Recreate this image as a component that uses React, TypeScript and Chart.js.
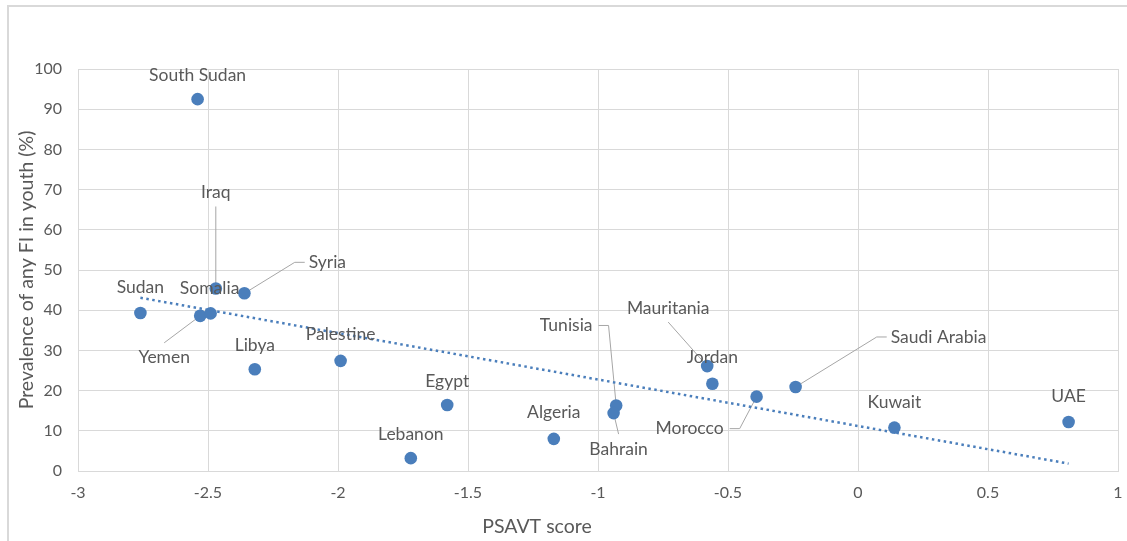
import React, { useEffect, useRef } from "react";
import { Chart, registerables } from "chart.js";

Chart.register(...registerables);

// ---- Data ----
const countries = [
  "South Sudan", "Sudan", "Yemen", "Somalia", "Iraq", "Syria", "Libya", "Palestine",
  "Egypt", "Lebanon", "Algeria", "Tunisia", "Bahrain", "Mauritania", "Jordan",
  "Morocco", "Saudi Arabia", "Kuwait", "UAE",
];
const psavtScore = [
  -2.54, -2.76, -2.53, -2.49, -2.47, -2.36, -2.32, -1.99,
  -1.58, -1.72, -1.17, -0.93, -0.94, -0.58, -0.56,
  -0.39, -0.24, 0.14, 0.81,
];
const fiPrevalence = [
  92.5, 39.3, 38.6, 39.2, 45.4, 44.2, 25.3, 27.4,
  16.4, 3.2, 8.0, 16.3, 14.4, 26.1, 21.7,
  18.5, 20.9, 10.8, 12.2,
];
const xAxisTitle = "PSAVT score";
const yAxisTitle = "Prevalence of any FI in youth (%)";

// ---- Label placement (pixel offsets of label centre from its point, leader style) ----
const labelPlacement: Record<string, [number, number, string]> = {
  "South Sudan": [0, -24, "none"],
  "Sudan": [0, -26, "none"],
  "Yemen": [-36, 42, "top"],
  "Somalia": [-1, -25, "none"],
  "Iraq": [0, -96, "bottom"],
  "Syria": [83, -31, "left"],
  "Libya": [0, -24, "none"],
  "Palestine": [0, -26, "none"],
  "Egypt": [0, -24, "none"],
  "Lebanon": [0, -24, "none"],
  "Algeria": [0, -26, "none"],
  "Tunisia": [-50, -80, "right"],
  "Bahrain": [5, 36, "top"],
  "Mauritania": [-39, -58, "bottom"],
  "Jordan": [0, -26, "none"],
  "Morocco": [-67, 32, "right"],
  "Saudi Arabia": [143, -50, "left"],
  "Kuwait": [0, -25, "none"],
  "UAE": [0, -26, "none"],
};

const FONT = "Lato, 'Open Sans', sans-serif";
const TEXT = "#595959";
const GRID = "#d9d9d9";
const BLUE = "#4A7EBB";
const LABEL_SIZE = 17.5;
const TITLE_SIZE = 19.5;

function regression(xs: number[], ys: number[]) {
  const n = xs.length;
  const mx = xs.reduce((a, b) => a + b, 0) / n;
  const my = ys.reduce((a, b) => a + b, 0) / n;
  let sxy = 0, sxx = 0;
  for (let i = 0; i < n; i++) {
    sxy += (xs[i] - mx) * (ys[i] - my);
    sxx += (xs[i] - mx) ** 2;
  }
  const slope = sxy / sxx;
  return { slope, intercept: my - slope * mx };
}

const labelPlugin = {
  id: "countryLabels",
  beforeDatasetsDraw(chart: any) {
    const meta = chart.getDatasetMeta(0);
    const ctx = chart.ctx;
    ctx.save();
    ctx.font = `${LABEL_SIZE}px ${FONT}`;
    ctx.strokeStyle = "#a6a6a6";
    ctx.lineWidth = 1;
    meta.data.forEach((pt: any, i: number) => {
      const name = countries[i];
      const [dx, dy, leader] = labelPlacement[name] || [0, -24, "none"];
      if (leader === "none") return;
      const cx = pt.x + dx;
      const cy = pt.y + dy;
      const w = ctx.measureText(name).width;
      ctx.beginPath();
      if (leader === "left") {
        const l = cx - w / 2;
        ctx.moveTo(l - 4, cy);
        ctx.lineTo(l - 14, cy);
        ctx.lineTo(pt.x, pt.y);
      } else if (leader === "right") {
        const r = cx + w / 2;
        ctx.moveTo(r + 6, cy);
        ctx.lineTo(r + 16, cy);
        ctx.lineTo(pt.x, pt.y);
      } else if (leader === "bottom") {
        ctx.moveTo(cx, cy + 14);
        ctx.lineTo(pt.x, pt.y);
      } else if (leader === "top") {
        ctx.moveTo(cx, cy - 15);
        ctx.lineTo(pt.x, pt.y);
      }
      ctx.stroke();
    });
    ctx.restore();
  },
  afterDatasetsDraw(chart: any) {
    const meta = chart.getDatasetMeta(0);
    const ctx = chart.ctx;
    ctx.save();
    ctx.font = `${LABEL_SIZE}px ${FONT}`;
    ctx.fillStyle = TEXT;
    ctx.textAlign = "center";
    ctx.textBaseline = "middle";
    meta.data.forEach((pt: any, i: number) => {
      const name = countries[i];
      const [dx, dy] = labelPlacement[name] || [0, -24, "none"];
      ctx.fillText(name, pt.x + dx, pt.y + dy);
    });
    // x axis title (Excel places it slightly left of the plot centre)
    ctx.font = `${TITLE_SIZE}px ${FONT}`;
    ctx.fillText(xAxisTitle, 537, 527);
    ctx.restore();
  },
};

export default function App() {
  const canvasRef = useRef<HTMLCanvasElement | null>(null);

  useEffect(() => {
    const canvas = canvasRef.current;
    if (!canvas) return;
    const points = psavtScore.map((x, i) => ({ x, y: fiPrevalence[i] }));
    const { slope, intercept } = regression(psavtScore, fiPrevalence);
    const xmin = Math.min(...psavtScore);
    const xmax = Math.max(...psavtScore);
    const trend = [
      { x: xmin, y: intercept + slope * xmin },
      { x: xmax, y: intercept + slope * xmax },
    ];

    const chart = new Chart(canvas, {
      type: "scatter",
      data: {
        datasets: [
          {
            label: "Countries",
            data: points,
            backgroundColor: BLUE,
            borderColor: BLUE,
            pointRadius: 6.3,
            pointHoverRadius: 6.3,
            borderWidth: 0,
          },
          {
            type: "line",
            label: "Linear trend",
            data: trend,
            borderColor: BLUE,
            borderWidth: 2.5,
            borderDash: [2.5, 3.5],
            pointRadius: 0,
            fill: false,
            showLine: true,
          } as any,
        ],
      },
      options: {
        responsive: false,
        animation: false,
        devicePixelRatio: 1,
        layout: { padding: { top: 69, right: 9, left: 0, bottom: 0 } },
        plugins: {
          legend: { display: false },
          tooltip: { enabled: false },
          title: { display: false },
        },
        scales: {
          x: {
            type: "linear",
            min: -3,
            max: 1,
            afterFit: (s: any) => {
              s.height = 70;
              s.paddingLeft = 0;
              s.paddingRight = 0;
            },
            ticks: {
              stepSize: 0.5,
              color: TEXT,
              font: { family: FONT, size: 16 },
              padding: 12,
              callback: (v: any) => String(Math.round(Number(v) * 10) / 10),
            },
            grid: { color: GRID, lineWidth: 1, drawTicks: false },
            border: { color: GRID, width: 1 },
            title: { display: false, text: xAxisTitle },
          },
          y: {
            type: "linear",
            min: 0,
            max: 100,
            afterFit: (s: any) => {
              s.width = 78;
              s.paddingTop = 0;
              s.paddingBottom = 0;
            },
            ticks: {
              stepSize: 10,
              color: TEXT,
              font: { family: FONT, size: 16 },
              padding: 16,
            },
            grid: { color: GRID, lineWidth: 1, drawTicks: false },
            border: { color: GRID, width: 1 },
            title: {
              display: true,
              text: yAxisTitle,
              color: TEXT,
              font: { family: FONT, size: TITLE_SIZE },
              padding: { top: 15, bottom: 0 },
            },
          },
        },
      },
      plugins: [labelPlugin],
    });
    return () => chart.destroy();
  }, []);

  return (
    <div
      style={{
        position: "absolute",
        left: 0,
        top: 0,
        width: 1127,
        height: 541,
        overflow: "hidden",
        background: "#ffffff",
      }}
    >
      <div
        style={{
          position: "absolute",
          left: 7,
          top: 5,
          width: 1300,
          height: 700,
          border: `2px solid ${GRID}`,
          boxSizing: "border-box",
        }}
      />
      <canvas
        ref={canvasRef}
        width={1127}
        height={541}
        style={{ position: "absolute", left: 0, top: 0, width: 1127, height: 541 }}
      />
    </div>
  );
}
